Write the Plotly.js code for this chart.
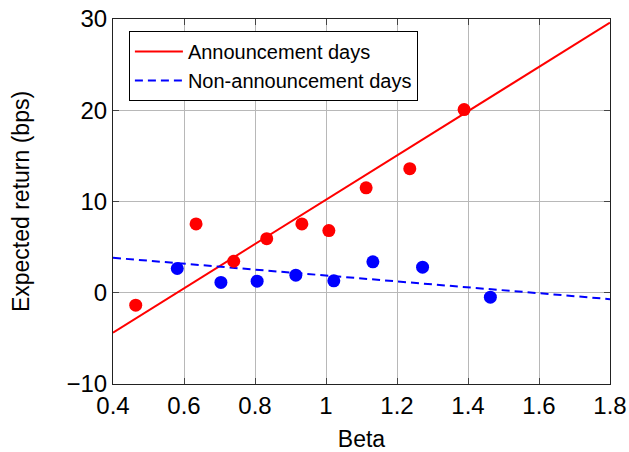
<!DOCTYPE html>
<html>
<head>
<meta charset="utf-8">
<script src="https://cdn.plot.ly/plotly-3.0.1.min.js"></script>
<style>html,body{margin:0;padding:0;background:#fff;}#chart{width:629px;height:452px;}</style>
</head>
<body>
<div id="chart"></div>
<script>
// Scatter points (beta, expected return in bps)
const announceBeta = [0.464, 0.634, 0.740, 0.833, 0.932, 1.008, 1.113, 1.236, 1.389];
const announceReturn = [-1.36, 7.54, 3.45, 5.93, 7.54, 6.81, 11.5, 13.6, 20.07];
const nonAnnounceBeta = [0.581, 0.704, 0.806, 0.915, 1.022, 1.132, 1.272, 1.463];
const nonAnnounceReturn = [2.66, 1.13, 1.27, 1.93, 1.31, 3.39, 2.8, -0.48];
// Fitted lines (endpoints)
const fitBeta = [0.4, 1.8];
const announceFit = [-4.37, 29.6];
const nonAnnounceFit = [3.83, -0.70];
const seriesNames = ["Announcement days", "Non-announcement days"];

const font = "Liberation Sans, Arial, sans-serif";

const data = [
  {x: fitBeta, y: announceFit, mode: "lines", name: seriesNames[0],
   line: {color: "#ff0000", width: 2}},
  {x: fitBeta, y: nonAnnounceFit, mode: "lines", name: seriesNames[1],
   line: {color: "#0000ff", width: 2, dash: "8px,5px"}},
  {x: announceBeta, y: announceReturn, mode: "markers", showlegend: false,
   marker: {color: "#ff0000", size: 13}},
  {x: nonAnnounceBeta, y: nonAnnounceReturn, mode: "markers", showlegend: false,
   marker: {color: "#0000ff", size: 13}}
];

const axisCommon = {
  showgrid: true, gridcolor: "#b8b8b8", gridwidth: 1,
  zeroline: false, showline: true, linecolor: "#222", linewidth: 1, mirror: "ticks",
  ticks: "inside", ticklen: 6, tickcolor: "#444", tickwidth: 1,
  tickfont: {family: font, size: 24, color: "#000"}
};

const layout = {
  width: 629, height: 452,
  margin: {l: 113, r: 19, t: 19, b: 68},
  paper_bgcolor: "#fff", plot_bgcolor: "#fff",
  font: {family: font, color: "#000"},
  xaxis: Object.assign({}, axisCommon, {
    range: [0.4, 1.8], dtick: 0.2, tick0: 0.4,
    title: {text: "Beta", font: {family: font, size: 23}, standoff: 13}
  }),
  yaxis: Object.assign({}, axisCommon, {
    range: [-10, 30], dtick: 10, tick0: 0,
    title: {text: "Expected return (bps)", font: {family: font, size: 23}, standoff: 30}
  }),
  legend: {
    x: 0.032, y: 0.967, xanchor: "left", yanchor: "top",
    bgcolor: "#fff", bordercolor: "#000", borderwidth: 1,
    font: {family: font, size: 20, color: "#000"},
    itemwidth: 48, tracegroupgap: 0
  },
  showlegend: true
};

Plotly.newPlot("chart", data, layout, {displayModeBar: false, staticPlot: true});
</script>
</body>
</html>
